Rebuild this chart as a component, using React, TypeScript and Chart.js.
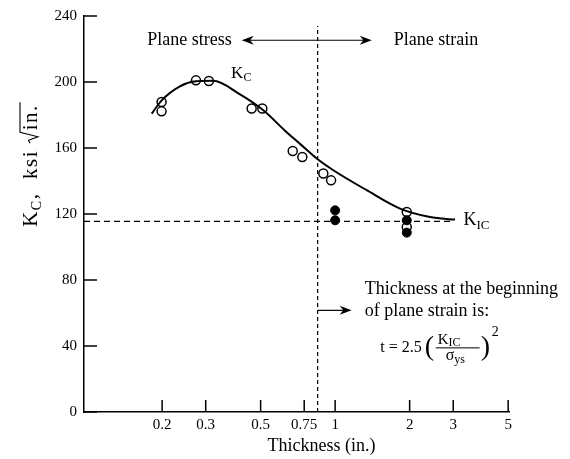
import React, { useEffect, useRef } from 'react';
import { Chart, registerables } from 'chart.js';

Chart.register(...registerables);

// ---- data ----
const xTicks = [0.2, 0.3, 0.5, 0.75, 1, 2, 3, 5];
const xTickLabels = ['0.2', '0.3', '0.5', '0.75', '1', '2', '3', '5'];
const yTicks = [0, 40, 80, 120, 160, 200, 240];

// open circles (Kc test points)
const openX = [0.199, 0.199, 0.274, 0.309, 0.46, 0.508, 0.674, 0.737, 0.896, 0.963, 1.947, 1.947];
const openY = [187.9, 182.2, 201.0, 200.6, 183.9, 183.9, 158.2, 154.5, 144.5, 140.4, 121.2, 112.1];

// filled circles (valid KIC points)
const filledX = [1.0, 1.0, 1.947, 1.947];
const filledY = [122.2, 116.2, 116.2, 108.7];

// Kc trend curve
const curveX = [0.1815, 0.1992, 0.2361, 0.2742, 0.3211, 0.4128, 0.5113, 0.6274, 0.7214, 0.8427, 0.9834, 1.342, 1.829, 2.417, 3.05];
const curveY = [180.8, 188.9, 197.4, 200.4, 200.7, 192.5, 183.0, 170.5, 162.5, 153.6, 146.5, 134.4, 123.3, 118.2, 116.6];

const kicValue = 115.5;
const kicEndX = 3.0;
const transitionX = 0.85;
const transitionTop = 234;

const X_MIN = 0.0967;
const X_MAX = 5.04;

const SERIF = '"Liberation Serif", "Times New Roman", serif';

const zip = (xs: number[], ys: number[]) => xs.map((x, i) => ({ x, y: ys[i] }));

function arrowHead(ctx: CanvasRenderingContext2D, tipX: number, tipY: number, dir: number) {
  const len = 12;
  const hw = 4.5;
  ctx.beginPath();
  ctx.moveTo(tipX, tipY);
  ctx.lineTo(tipX - dir * len, tipY - hw);
  ctx.lineTo(tipX - dir * len * 0.7, tipY);
  ctx.lineTo(tipX - dir * len, tipY + hw);
  ctx.closePath();
  ctx.fill();
}

const annotPlugin = {
  id: 'annot',
  afterDraw(chart: any) {
    const { ctx, chartArea: ca } = chart;
    const xs = chart.scales.x;
    const ys = chart.scales.y;
    ctx.save();
    ctx.strokeStyle = '#000';
    ctx.fillStyle = '#000';
    ctx.lineWidth = 1.5;

    // inward tick marks
    yTicks.forEach((v) => {
      const py = ys.getPixelForValue(v);
      ctx.beginPath();
      ctx.moveTo(ca.left, py);
      ctx.lineTo(ca.left + 13, py);
      ctx.stroke();
    });
    xTicks.forEach((v) => {
      const px = xs.getPixelForValue(v);
      ctx.beginPath();
      ctx.moveTo(px, ca.bottom);
      ctx.lineTo(px, ca.bottom - 12);
      ctx.stroke();
    });

    const vx = xs.getPixelForValue(transitionX);

    // Plane stress <---> Plane strain
    const topY = ys.getPixelForValue(225.3);
    const leftTip = xs.getPixelForValue(0.4194);
    const rightTip = xs.getPixelForValue(1.406);
    ctx.lineWidth = 1.2;
    ctx.beginPath();
    ctx.moveTo(leftTip + 6, topY);
    ctx.lineTo(rightTip - 6, topY);
    ctx.stroke();
    arrowHead(ctx, leftTip, topY, -1);
    arrowHead(ctx, rightTip, topY, 1);
    ctx.font = `18px ${SERIF}`;
    ctx.textBaseline = 'middle';
    ctx.textAlign = 'right';
    ctx.fillText('Plane stress', leftTip - 10, topY);
    ctx.textAlign = 'left';
    ctx.fillText('Plane strain', rightTip + 22, topY);

    // Kc label
    const kcX = xs.getPixelForValue(0.38);
    const kcY = ys.getPixelForValue(202.5);
    ctx.textBaseline = 'alphabetic';
    ctx.font = `17px ${SERIF}`;
    ctx.fillText('K', kcX, kcY);
    const kw = ctx.measureText('K').width;
    ctx.font = `12px ${SERIF}`;
    ctx.fillText('C', kcX + kw, kcY + 3);

    // KIC label
    const kicX = xs.getPixelForValue(3.3);
    const kicY = ys.getPixelForValue(kicValue) + 4;
    ctx.font = `18px ${SERIF}`;
    ctx.fillText('K', kicX, kicY);
    const kw2 = ctx.measureText('K').width;
    ctx.font = `13px ${SERIF}`;
    ctx.fillText('IC', kicX + kw2, kicY + 4);

    // pointer arrow to note
    const noteY = ys.getPixelForValue(61.6);
    ctx.lineWidth = 1.2;
    ctx.beginPath();
    ctx.moveTo(vx, noteY);
    ctx.lineTo(vx + 28, noteY);
    ctx.stroke();
    arrowHead(ctx, vx + 34, noteY, 1);

    const textLeft = vx + 47;
    ctx.font = `18px ${SERIF}`;
    ctx.textBaseline = 'middle';
    ctx.textAlign = 'left';
    ctx.fillText('Thickness at the beginning', textLeft, noteY - 21);
    ctx.fillText('of plane strain is:', textLeft, noteY + 1);

    // formula t = 2.5 (KIC / σys)^2
    const fY = noteY + 36;
    ctx.textBaseline = 'alphabetic';
    ctx.textAlign = 'right';
    ctx.font = `16px ${SERIF}`;
    ctx.fillText('t = 2.5', textLeft + 57, fY + 6);
    ctx.textAlign = 'left';
    ctx.font = `28px ${SERIF}`;
    ctx.fillText('(', textLeft + 60, fY + 9);
    const numL = textLeft + 73;
    ctx.font = `15px ${SERIF}`;
    ctx.fillText('K', numL, fY - 2);
    const kw3 = ctx.measureText('K').width;
    ctx.font = `12px ${SERIF}`;
    ctx.fillText('IC', numL + kw3, fY + 0);
    ctx.lineWidth = 1;
    ctx.beginPath();
    ctx.moveTo(numL - 2, fY + 1.5);
    ctx.lineTo(numL + 42, fY + 1.5);
    ctx.stroke();
    ctx.font = `16px ${SERIF}`;
    ctx.fillText('σ', numL + 8, fY + 14);
    const sw = ctx.measureText('σ').width;
    ctx.font = `12px ${SERIF}`;
    ctx.fillText('ys', numL + 8 + sw, fY + 17);
    ctx.font = `28px ${SERIF}`;
    ctx.fillText(')', numL + 43, fY + 9);
    ctx.font = `14px ${SERIF}`;
    ctx.fillText('2', numL + 54, fY - 10);

    // x axis title
    ctx.font = `18px ${SERIF}`;
    ctx.textAlign = 'center';
    ctx.textBaseline = 'middle';
    ctx.fillText('Thickness (in.)', (ca.left + ca.right) / 2 + 25, ca.bottom + 34);

    // y axis title (rotated): K_C, ksi √in.
    ctx.save();
    ctx.translate(ca.left - 54, ys.getPixelForValue(150));
    ctx.rotate(-Math.PI / 2);
    ctx.textAlign = 'left';
    ctx.textBaseline = 'alphabetic';
    try { (ctx as any).letterSpacing = '1.5px'; } catch (e) { /* ignore */ }
    const big = `21px ${SERIF}`;
    const small = `14px ${SERIF}`;
    ctx.font = big;
    const wK = ctx.measureText('K').width;
    ctx.font = small;
    const wC = ctx.measureText('C').width;
    ctx.font = big;
    const wMid = ctx.measureText(',  ksi ').width;
    const wRad = 13;
    const wIn = ctx.measureText('in.').width;
    const total = wK + wC + wMid + wRad + wIn + 2;
    let cx = -total / 2;
    const base = 7;
    ctx.fillText('K', cx, base);
    cx += wK;
    ctx.font = small;
    ctx.fillText('C', cx, base + 4);
    cx += wC;
    ctx.font = big;
    ctx.fillText(',  ksi ', cx, base);
    cx += wMid;
    ctx.lineWidth = 1.1;
    ctx.beginPath();
    ctx.moveTo(cx, base - 7);
    ctx.lineTo(cx + 3, base - 8.5);
    ctx.lineTo(cx + 6.5, base + 1);
    ctx.lineTo(cx + 11, base - 17);
    ctx.lineTo(cx + wRad + wIn + 2, base - 17);
    ctx.stroke();
    cx += wRad;
    ctx.fillText('in.', cx, base);
    ctx.restore();

    ctx.restore();
  },
};

export default function App() {
  const ref = useRef<HTMLCanvasElement | null>(null);

  useEffect(() => {
    document.body.style.margin = '0';
    const canvas = ref.current;
    if (!canvas) return;
    const chart = new Chart(canvas, {
      type: 'scatter',
      data: {
        datasets: [
          {
            label: 'KIC level',
            data: [{ x: X_MIN, y: kicValue }, { x: kicEndX, y: kicValue }],
            showLine: true,
            borderColor: '#000',
            borderWidth: 1.2,
            borderDash: [6, 4],
            pointRadius: 0,
          },
          {
            label: 'transition',
            data: [{ x: transitionX, y: 0 }, { x: transitionX, y: transitionTop }],
            showLine: true,
            borderColor: '#000',
            borderWidth: 1.2,
            borderDash: [4, 3],
            pointRadius: 0,
          },
          {
            label: 'Kc curve',
            data: zip(curveX, curveY),
            showLine: true,
            borderColor: '#000',
            borderWidth: 2,
            cubicInterpolationMode: 'monotone',
            pointRadius: 0,
          },
          {
            label: 'valid KIC',
            data: zip(filledX, filledY),
            pointRadius: 4.5,
            pointBackgroundColor: '#000',
            pointBorderColor: '#000',
            pointBorderWidth: 1,
          },
          {
            label: 'Kc tests',
            data: zip(openX, openY),
            pointRadius: 4.5,
            pointBackgroundColor: '#fff',
            pointBorderColor: '#000',
            pointBorderWidth: 1.5,
          },
        ],
      } as any,
      options: {
        responsive: false,
        animation: false,
        events: [],
        layout: { padding: { left: 0, top: 16, right: 61, bottom: 0 } },
        plugins: { legend: { display: false }, tooltip: { enabled: false } },
        scales: {
          x: {
            type: 'logarithmic',
            min: X_MIN,
            max: X_MAX,
            afterBuildTicks: (s: any) => {
              s.ticks = xTicks.map((v) => ({ value: v }));
            },
            afterFit: (s: any) => {
              s.height = 47;
            },
            ticks: {
              autoSkip: false,
              maxRotation: 0,
              padding: 4,
              color: '#000',
              font: { family: SERIF, size: 15 },
              callback: (v: any) => {
                const i = xTicks.indexOf(Number(v));
                return i >= 0 ? xTickLabels[i] : '';
              },
            },
            grid: { display: false, drawTicks: false },
            border: { display: true, color: '#000', width: 1.5 },
          },
          y: {
            type: 'linear',
            min: 0,
            max: 240,
            afterBuildTicks: (s: any) => {
              s.ticks = yTicks.map((v) => ({ value: v }));
            },
            afterFit: (s: any) => {
              s.width = 84;
            },
            ticks: {
              padding: 7,
              color: '#000',
              font: { family: SERIF, size: 15 },
            },
            grid: { display: false, drawTicks: false },
            border: { display: true, color: '#000', width: 1.5 },
          },
        },
      } as any,
      plugins: [annotPlugin],
    });
    return () => chart.destroy();
  }, []);

  return (
    <div style={{ width: 570, height: 459, background: '#fff' }}>
      <canvas ref={ref} width={570} height={459} />
    </div>
  );
}
